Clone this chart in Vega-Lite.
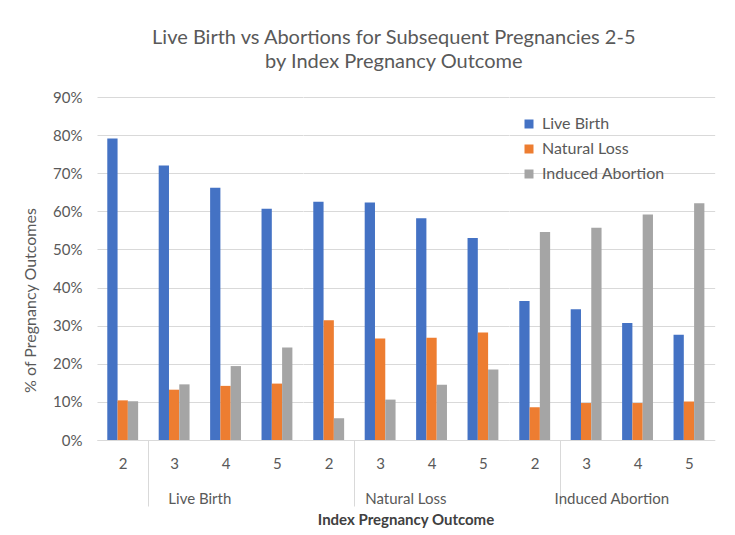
{
  "$schema": "https://vega.github.io/schema/vega-lite/v6.json",
  "padding": {"left": 22, "top": 28, "right": 20, "bottom": 4},
  "background": "white",
  "title": {
    "text": ["Live Birth vs Abortions for Subsequent Pregnancies 2-5", "by Index Pregnancy Outcome"],
    "font": "Lato",
    "fontSize": 20,
    "fontWeight": "normal",
    "color": "#595959",
    "lineHeight": 24,
    "anchor": "middle",
    "dx": 25,
    "offset": 18
  },
  "data": {
    "values": [
      {"index": "Live Birth", "preg": 2, "outcome": "Live Birth", "pct": 0.791},
      {"index": "Live Birth", "preg": 2, "outcome": "Natural Loss", "pct": 0.104},
      {"index": "Live Birth", "preg": 2, "outcome": "Induced Abortion", "pct": 0.102},
      {"index": "Live Birth", "preg": 3, "outcome": "Live Birth", "pct": 0.720},
      {"index": "Live Birth", "preg": 3, "outcome": "Natural Loss", "pct": 0.132},
      {"index": "Live Birth", "preg": 3, "outcome": "Induced Abortion", "pct": 0.146},
      {"index": "Live Birth", "preg": 4, "outcome": "Live Birth", "pct": 0.662},
      {"index": "Live Birth", "preg": 4, "outcome": "Natural Loss", "pct": 0.142},
      {"index": "Live Birth", "preg": 4, "outcome": "Induced Abortion", "pct": 0.194},
      {"index": "Live Birth", "preg": 5, "outcome": "Live Birth", "pct": 0.607},
      {"index": "Live Birth", "preg": 5, "outcome": "Natural Loss", "pct": 0.148},
      {"index": "Live Birth", "preg": 5, "outcome": "Induced Abortion", "pct": 0.243},
      {"index": "Natural Loss", "preg": 2, "outcome": "Live Birth", "pct": 0.625},
      {"index": "Natural Loss", "preg": 2, "outcome": "Natural Loss", "pct": 0.314},
      {"index": "Natural Loss", "preg": 2, "outcome": "Induced Abortion", "pct": 0.057},
      {"index": "Natural Loss", "preg": 3, "outcome": "Live Birth", "pct": 0.623},
      {"index": "Natural Loss", "preg": 3, "outcome": "Natural Loss", "pct": 0.266},
      {"index": "Natural Loss", "preg": 3, "outcome": "Induced Abortion", "pct": 0.106},
      {"index": "Natural Loss", "preg": 4, "outcome": "Live Birth", "pct": 0.582},
      {"index": "Natural Loss", "preg": 4, "outcome": "Natural Loss", "pct": 0.268},
      {"index": "Natural Loss", "preg": 4, "outcome": "Induced Abortion", "pct": 0.145},
      {"index": "Natural Loss", "preg": 5, "outcome": "Live Birth", "pct": 0.530},
      {"index": "Natural Loss", "preg": 5, "outcome": "Natural Loss", "pct": 0.282},
      {"index": "Natural Loss", "preg": 5, "outcome": "Induced Abortion", "pct": 0.185},
      {"index": "Induced Abortion", "preg": 2, "outcome": "Live Birth", "pct": 0.365},
      {"index": "Induced Abortion", "preg": 2, "outcome": "Natural Loss", "pct": 0.086},
      {"index": "Induced Abortion", "preg": 2, "outcome": "Induced Abortion", "pct": 0.546},
      {"index": "Induced Abortion", "preg": 3, "outcome": "Live Birth", "pct": 0.343},
      {"index": "Induced Abortion", "preg": 3, "outcome": "Natural Loss", "pct": 0.097},
      {"index": "Induced Abortion", "preg": 3, "outcome": "Induced Abortion", "pct": 0.557},
      {"index": "Induced Abortion", "preg": 4, "outcome": "Live Birth", "pct": 0.307},
      {"index": "Induced Abortion", "preg": 4, "outcome": "Natural Loss", "pct": 0.097},
      {"index": "Induced Abortion", "preg": 4, "outcome": "Induced Abortion", "pct": 0.592},
      {"index": "Induced Abortion", "preg": 5, "outcome": "Live Birth", "pct": 0.276},
      {"index": "Induced Abortion", "preg": 5, "outcome": "Natural Loss", "pct": 0.101},
      {"index": "Induced Abortion", "preg": 5, "outcome": "Induced Abortion", "pct": 0.621}
    ]
  },
  "facet": {
    "column": {
      "field": "index",
      "type": "nominal",
      "sort": ["Live Birth", "Natural Loss", "Induced Abortion"],
      "title": "Index Pregnancy Outcome",
      "header": {
        "labelOrient": "bottom",
        "titleOrient": "bottom",
        "labelFont": "Lato",
        "labelFontSize": 15,
        "labelColor": "#595959",
        "labelPadding": -15,
        "titleFont": "Lato",
        "titleFontSize": 15,
        "titleFontWeight": "bold",
        "titleColor": "#404040",
        "titlePadding": -4
      }
    }
  },
  "spacing": 0,
  "spec": {
    "width": 205.67,
    "height": 343,
    "mark": {"type": "bar"},
    "encoding": {
      "x": {
        "field": "preg",
        "type": "ordinal",
        "scale": {"paddingInner": 0, "paddingOuter": 0},
        "axis": {
          "title": null,
          "labelAngle": 0,
          "domain": true,
          "domainColor": "#d9d9d9",
          "ticks": true,
          "tickBand": "extent",
          "tickSize": 66,
          "tickColor": "#d9d9d9",
          "tickOpacity": {"condition": {"test": "datum.value == 2 && !datum.extra", "value": 1}, "value": 0},
          "labelPadding": -50,
          "labelFont": "Lato",
          "labelFontSize": 15,
          "labelColor": "#595959"
        }
      },
      "xOffset": {
        "field": "outcome",
        "type": "nominal",
        "sort": ["Live Birth", "Natural Loss", "Induced Abortion"],
        "scale": {"paddingInner": 0, "paddingOuter": 1.1}
      },
      "y": {
        "field": "pct",
        "type": "quantitative",
        "scale": {"domain": [0, 0.9], "nice": false},
        "axis": {
          "title": "% of Pregnancy Outcomes",
          "format": ".0%",
          "values": [0, 0.1, 0.2, 0.3, 0.4, 0.5, 0.6, 0.7, 0.8, 0.9],
          "domain": false,
          "ticks": false,
          "grid": true,
          "gridColor": "#d9d9d9",
          "labelPadding": 15,
          "labelFont": "Lato",
          "labelFontSize": 15,
          "labelColor": "#595959",
          "titleFont": "Lato",
          "titleFontSize": 16,
          "titleFontWeight": "normal",
          "titleColor": "#595959",
          "titlePadding": 14,
          "titleY": 203
        }
      },
      "color": {
        "field": "outcome",
        "type": "nominal",
        "sort": ["Live Birth", "Natural Loss", "Induced Abortion"],
        "scale": {"range": ["#4472C4", "#ED7D31", "#A5A5A5"]},
        "legend": {
          "title": null,
          "orient": "none",
          "legendX": 424,
          "legendY": 19,
          "symbolType": "square",
          "symbolSize": 81,
          "symbolStrokeWidth": 0,
          "labelFont": "Lato",
          "labelFontSize": 16,
          "labelColor": "#595959",
          "rowPadding": 9,
          "labelOffset": 5
        }
      }
    }
  },
  "config": {
    "view": {"stroke": null}
  }
}
